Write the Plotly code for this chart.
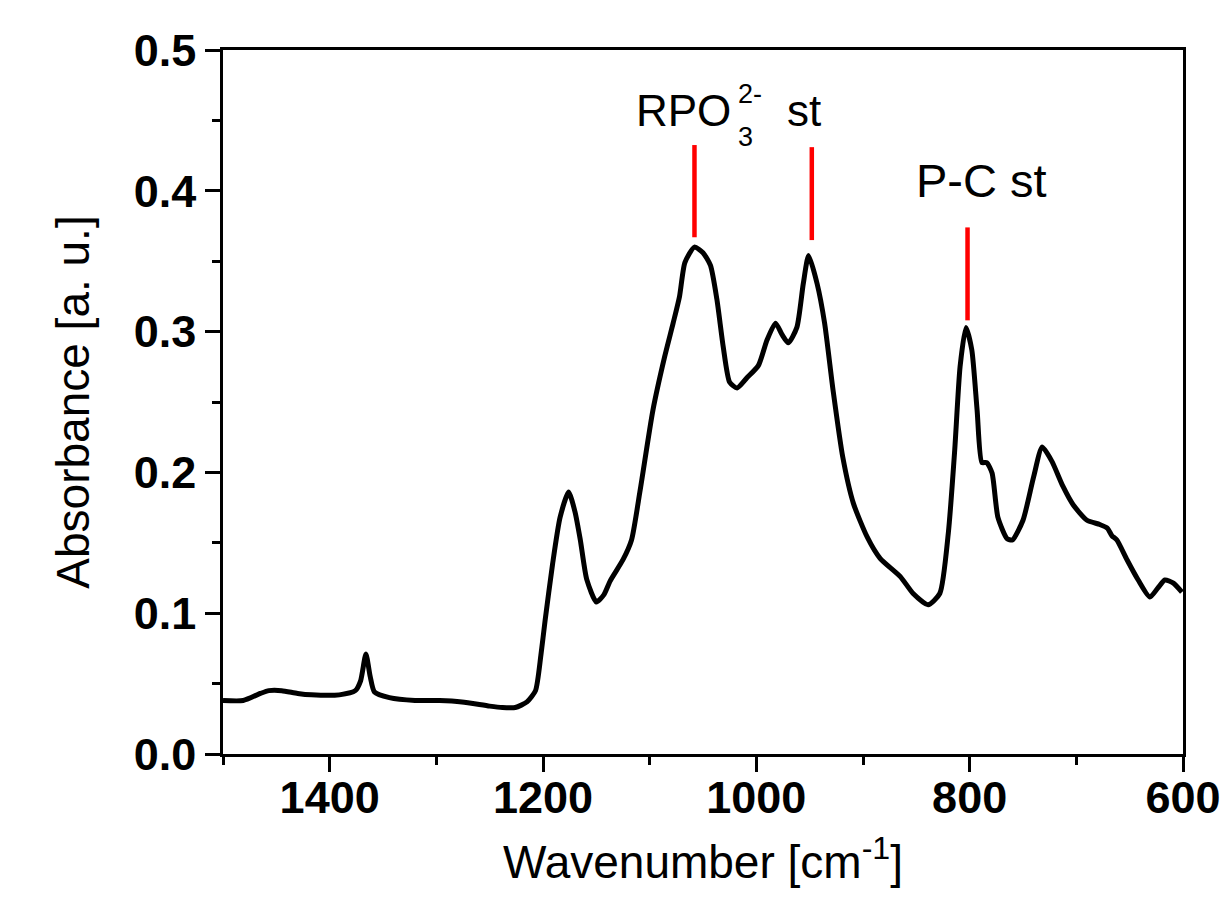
import plotly.graph_objects as go

# Spectrum data
wavenumber = [1500, 1481, 1465, 1457, 1445, 1430, 1417, 1391, 1376, 1371, 1366, 1362, 1358, 1344,
              1320, 1297, 1276, 1250, 1238, 1226, 1215, 1207, 1202, 1198, 1191, 1184, 1176, 1170,
              1165, 1159, 1150, 1143, 1137, 1125, 1117, 1109, 1097, 1086, 1078, 1072, 1067, 1058,
              1050, 1043, 1037, 1031, 1025, 1018, 1009, 998, 990, 982, 976, 970, 962, 956, 951,
              943, 936, 928, 919, 909, 896, 884, 865, 853, 839, 828, 820, 814, 809, 803.5, 798,
              793, 788.5, 784, 779, 773.5, 765, 760, 750, 740, 732, 723, 712.5, 703, 690, 678,
              671, 666.6, 662, 652.5, 642, 631, 623.5, 617, 609, 601]
absorbance = [0.038, 0.038, 0.043, 0.045, 0.045, 0.043, 0.042, 0.042, 0.045, 0.052, 0.071, 0.055, 0.044, 0.040,
              0.038, 0.038, 0.037, 0.034, 0.033, 0.033, 0.037, 0.045, 0.070, 0.095, 0.135, 0.168, 0.186, 0.172,
              0.152, 0.124, 0.108, 0.113, 0.123, 0.138, 0.152, 0.187, 0.244, 0.282, 0.306, 0.325, 0.349, 0.360,
              0.356, 0.347, 0.323, 0.289, 0.264, 0.260, 0.267, 0.276, 0.294, 0.306, 0.298, 0.292, 0.303, 0.334, 0.354,
              0.334, 0.306, 0.258, 0.211, 0.178, 0.154, 0.139, 0.126, 0.114, 0.106, 0.114, 0.157, 0.216, 0.275, 0.303, 0.287,
              0.244, 0.207, 0.207, 0.1995, 0.168, 0.153, 0.152, 0.166, 0.197, 0.218, 0.208, 0.190, 0.177, 0.166, 0.163,
              0.1605, 0.155, 0.152, 0.138, 0.1236, 0.1115, 0.118, 0.1236, 0.1214, 0.115]

# Peak marker lines (red)
marker_x = [1058, 948, 802]
marker_top = [0.4325, 0.431, 0.374]
marker_bottom = [0.367, 0.365, 0.308]

x_ticks = [1400, 1200, 1000, 800, 600]
y_ticks = [0.0, 0.1, 0.2, 0.3, 0.4, 0.5]

FONT = "Arial, Liberation Sans, sans-serif"

fig = go.Figure()
fig.add_trace(go.Scatter(x=wavenumber, y=absorbance, mode="lines",
                         line=dict(color="black", width=5, shape="spline", smoothing=0.6),
                         showlegend=False, hoverinfo="skip"))

mx, my = [], []
for xv, t, b in zip(marker_x, marker_top, marker_bottom):
    mx += [xv, xv, None]
    my += [b, t, None]
fig.add_trace(go.Scatter(x=mx, y=my, mode="lines", line=dict(color="#ff0000", width=4.5),
                         showlegend=False, hoverinfo="skip"))

axis_common = dict(showline=True, linecolor="black", linewidth=2.5, mirror=True,
                   ticks="outside", ticklen=15, tickwidth=2.5, tickcolor="black",
                   showgrid=False, zeroline=False, automargin=False,
                   tickfont=dict(family=FONT, size=45, color="black", weight="bold"),
                   title_font=dict(family=FONT, size=46, color="black"))

fig.update_xaxes(range=[1500, 600], tickvals=x_ticks, ticktext=[str(v) for v in x_ticks],
                 minor=dict(ticks="outside", ticklen=8, tickwidth=2.5, tickcolor="black", dtick=100, tick0=600),
                 title_text="Wavenumber [cm<sup>-1</sup>]", title_standoff=25, ticklabelstandoff=-13,
                 **axis_common)
fig.update_yaxes(range=[0, 0.5], tickvals=y_ticks, ticktext=[f"{v:.1f}" for v in y_ticks],
                 minor=dict(ticks="outside", ticklen=8, tickwidth=2.5, tickcolor="black", dtick=0.05, tick0=0),
                 title_text="Absorbance [a. u.]", title_standoff=30, **axis_common)

ann_font = dict(family=FONT, size=44, color="black")
pc_font = dict(family=FONT, size=47, color="black")
small_font = dict(family=FONT, size=27, color="black")
fig.add_annotation(x=1022, y=0.457, text="RPO", showarrow=False, xanchor="right", yanchor="middle", font=ann_font)
fig.add_annotation(x=1019, y=0.4685, text="2-", showarrow=False, xanchor="left", yanchor="middle", font=small_font)
fig.add_annotation(x=1019, y=0.438, text="3", showarrow=False, xanchor="left", yanchor="middle", font=small_font)
fig.add_annotation(x=973, y=0.457, text="st", showarrow=False, xanchor="left", yanchor="middle", font=ann_font)
fig.add_annotation(x=789, y=0.407, text="P-C st", showarrow=False, xanchor="center", yanchor="middle", font=pc_font)

fig.update_layout(width=1221, height=909, plot_bgcolor="white", paper_bgcolor="white",
                  margin=dict(l=223, r=38, t=50, b=155, autoexpand=False), font=dict(family=FONT))

fig.write_html("out.html", config={"displayModeBar": False},
               post_script="document.body.style.margin='0px';document.body.style.overflow='hidden';")
